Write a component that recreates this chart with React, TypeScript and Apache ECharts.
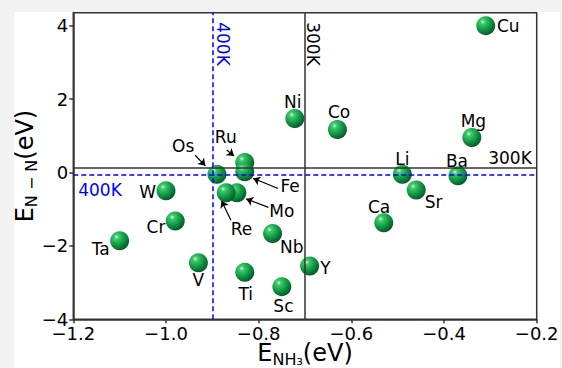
import React, { useEffect, useRef } from 'react';
import * as echarts from 'echarts';

// ---- data ----
const elements = ['Cu', 'Ni', 'Co', 'Mg', 'Li', 'Ba', 'Sr', 'Ca', 'Y', 'Sc', 'Ti', 'Nb', 'V', 'Ta', 'Cr', 'W', 'Os', 'Ru', 'Fe', 'Mo', 'Re'];
const eNH3 = [-0.31, -0.722, -0.63, -0.34, -0.49, -0.37, -0.46, -0.53, -0.69, -0.75, -0.83, -0.77, -0.93, -1.1, -0.98, -1.0, -0.89, -0.83, -0.83, -0.847, -0.87];
const eNN = [4.0, 1.47, 1.17, 0.95, -0.05, -0.09, -0.48, -1.37, -2.55, -3.11, -2.72, -1.66, -2.46, -1.86, -1.32, -0.5, -0.05, 0.27, 0.02, -0.555, -0.555];

// annotated (arrow) elements
const annoNames = ['Os', 'Ru', 'Fe', 'Mo', 'Re'];
const annoTextX = [-0.963, -0.871, -0.732, -0.75, -0.837];
const annoTextY = [0.72, 0.97, -0.38, -1.06, -1.53];
const arrowFromX = [-0.937, -0.869, -0.758, -0.779, -0.86];
const arrowFromY = [0.47, 0.61, -0.435, -0.95, -1.3];
const arrowToX = [-0.915, -0.853, -0.812, -0.827, -0.88];
const arrowToY = [0.18, 0.45, -0.16, -0.72, -0.77];

// reference lines
const line300KX = -0.7;
const line400KX = -0.9;
const line300KY = 0.12;
const line400KY = -0.07;

// line labels
const lineLabelText = ['400K', '300K', '300K', '400K'];
const lineLabelX = [-0.8776, -0.682, -0.2576, -1.1424];
const lineLabelY = [3.5, 3.5, 0.40, -0.48];

const xTicks = [-1.2, -1.0, -0.8, -0.6, -0.4, -0.2];
const yTicks = [-4, -2, 0, 2, 4];

// ---- layout / style (not data) ----
const FONT = 'DejaVu Sans';
const labelOffset: Record<string, [number, number]> = {
  Cu: [22.6, 0], Ni: [-2, -17], Co: [1.6, -17.8], Mg: [1.6, -16.6], Li: [0, -15.6], Ba: [-1, -14.7],
  Sr: [17.3, 11.5], Ca: [-4.7, -16], Y: [15.7, 2], Sc: [1.6, 19.5], Ti: [1, 21.5], Nb: [19.3, 13.2],
  V: [0, 17.5], Ta: [-19, 8], Cr: [-19.3, 6.5], W: [-18.2, 1],
};
const lineLabelColor = ['#0000ff', '#000', '#000', '#0000ff'];
const lineLabelRotate = [-90, -90, 0, 0];

const minus = (s: string) => s.replace('-', '\u2212');

export default function App() {
  const ref = useRef<HTMLDivElement>(null);
  useEffect(() => {
    if (!ref.current) return;
    const chart = echarts.init(ref.current, null, { renderer: 'svg' });
    const sphere = new echarts.graphic.RadialGradient(0.34, 0.3, 0.75, [
      { offset: 0, color: '#d4f8de' },
      { offset: 0.16, color: '#3fcb70' },
      { offset: 0.55, color: '#119a43' },
      { offset: 1, color: '#03542a' },
    ]);
    const pts = elements.map((n, i) => {
      const off = labelOffset[n];
      return {
        name: n,
        value: [eNH3[i], eNN[i]],
        label: off ? { show: true, position: 'inside', offset: off } : { show: false },
      };
    });
    const axisLineStyle = { color: '#333', width: 1.5 };
    const nameRich = {
      e: { fontSize: 24, fontFamily: FONT, color: '#000' },
      s: { fontSize: 16, fontFamily: FONT, color: '#000', padding: [12, 0, 0, 0] },
    };
    chart.setOption({
      animation: false,
      backgroundColor: '#fff',
      grid: {
        left: 59.3, right: 23.3, top: 0.8, bottom: 48.7, show: true, borderColor: '#333', borderWidth: 1.5,
        containLabel: false, outerBoundsMode: 'none',
      },
      xAxis: {
        type: 'value', min: -1.2, max: -0.2, interval: 0.2,
        splitLine: { show: false },
        axisLine: { onZero: false, lineStyle: axisLineStyle },
        axisTick: { length: 4, lineStyle: axisLineStyle },
        axisLabel: {
          color: '#000', fontFamily: FONT, fontSize: 18, margin: 5, hideOverlap: false,
          formatter: (v: number) => {
            const hit = xTicks.find((t) => Math.abs(t - v) < 1e-6);
            return hit === undefined ? '' : minus(hit.toFixed(1));
          },
        },
        name: '{e|E}{s|NH\u2083}{e|(eV)}',
        nameLocation: 'middle', nameGap: 20, nameMoveOverlap: false,
        nameTextStyle: { color: '#000', fontFamily: FONT, rich: nameRich },
      },
      yAxis: {
        type: 'value', min: -4, max: 4.35,
        splitLine: { show: false },
        axisLine: { onZero: false, lineStyle: axisLineStyle },
        axisTick: { length: 4, lineStyle: axisLineStyle, customValues: yTicks },
        axisLabel: {
          color: '#000', fontFamily: FONT, fontSize: 18, margin: 5, customValues: yTicks, hideOverlap: false,
          formatter: (v: number) => {
            const hit = yTicks.find((t) => Math.abs(t - v) < 1e-6);
            return hit === undefined ? '' : minus(String(hit));
          },
        },
        name: '{e|E}{s|N \u2212 N}{e|(eV)}',
        nameLocation: 'middle', nameGap: 34, nameMoveOverlap: false,
        nameTextStyle: { color: '#000', fontFamily: FONT, rich: nameRich },
      },
      series: [
        {
          type: 'scatter', data: [], z: 1, silent: true,
          markLine: {
            silent: true, symbol: 'none', animation: false, label: { show: false },
            data: [
              { xAxis: line300KX, lineStyle: { color: '#333', width: 1.5, type: 'solid' } },
              { yAxis: line300KY, lineStyle: { color: '#333', width: 1.5, type: 'solid' } },
              { xAxis: line400KX, lineStyle: { color: '#0000ff', width: 1.5, type: [5, 3] } },
              { yAxis: line400KY, lineStyle: { color: '#0000ff', width: 1.5, type: [5, 3] } },
            ],
          },
        },
        {
          type: 'scatter', z: 3, symbol: 'circle', symbolSize: 19,
          itemStyle: { color: sphere, opacity: 1 },
          label: { fontFamily: FONT, fontSize: 17, color: '#000', formatter: '{b}' },
          data: pts,
        },
        {
          type: 'scatter', z: 4, symbolSize: 0, silent: true,
          itemStyle: { opacity: 1 },
          label: { show: true, position: 'inside', fontFamily: FONT, fontSize: 17, color: '#000', formatter: '{b}' },
          data: annoNames.map((n, i) => ({ name: n, value: [annoTextX[i], annoTextY[i]] })),
          markLine: {
            silent: true, symbol: ['none', 'arrow'], symbolSize: 7, animation: false, label: { show: false },
            lineStyle: { color: '#000', width: 1.2, type: 'solid', opacity: 1 },
            data: annoNames.map((_, i) => [
              { coord: [arrowFromX[i], arrowFromY[i]] },
              { coord: [arrowToX[i], arrowToY[i]] },
            ]),
          },
        },
        {
          type: 'scatter', z: 4, symbolSize: 0, silent: true,
          itemStyle: { opacity: 1 },
          data: lineLabelText.map((t, i) => ({
            name: t, value: [lineLabelX[i], lineLabelY[i]],
            label: { show: true, position: 'inside', rotate: lineLabelRotate[i], color: lineLabelColor[i], fontFamily: FONT, fontSize: 17, formatter: '{b}' },
          })),
        },
      ],
    });
    return () => chart.dispose();
  }, []);
  return (
    <div style={{ position: 'fixed', left: 0, top: 0, width: 562, height: 368, background: '#f2f2f2' }}>
      <div ref={ref} style={{ position: 'absolute', left: 14, top: 12, width: 546, height: 356, background: '#fff' }} />
    </div>
  );
}
